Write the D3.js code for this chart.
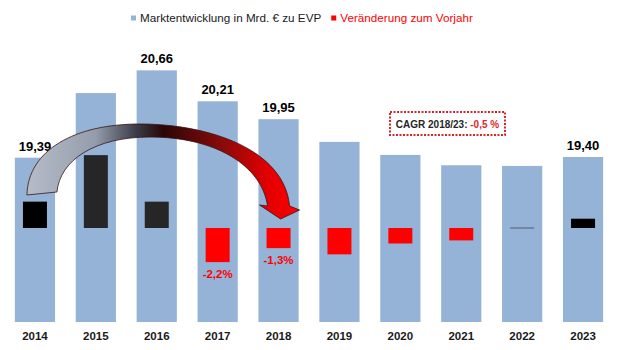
<!DOCTYPE html>
<html>
<head>
<meta charset="utf-8">
<script src="https://cdn.jsdelivr.net/npm/d3@7"></script>
<style>
  body { margin: 0; background: #fff; }
  text { font-family: "Liberation Sans", Arial, sans-serif; }
</style>
</head>
<body>
<div id="chart"></div>
<script>
const width = 620, height = 350;

// data
const years = ["2014", "2015", "2016", "2017", "2018", "2019", "2020", "2021", "2022", "2023"];
const market = [19.39, 20.33, 20.66, 20.21, 19.95, 19.62, 19.43, 19.28, 19.27, 19.40];
const change = [1.7, 4.7, 1.7, -2.2, -1.3, -1.7, -1.0, -0.8, 0.0, 0.6];
const valueLabels = ["19,39", "", "20,66", "20,21", "19,95", "", "", "", "", "19,40"];
const changeLabels = ["", "", "", "-2,2%", "-1,3%", "", "", "", "", ""];
const changeColors = ["#000000", "#262626", "#262626", "#ff0000", "#ff0000", "#ff0000", "#ff0000", "#ff0000", "#595959", "#000000"];
const legendLabels = ["Marktentwicklung in Mrd. € zu EVP", "Veränderung zum Vorjahr"];
const cagrLabel = "CAGR 2018/23: ", cagrValue = "-0,5 %";

const svg = d3.select("#chart").append("svg")
  .attr("width", width).attr("height", height);

const x = d3.scaleBand().domain(years).range([4.5, 613.5])
  .paddingInner(0.34).paddingOuter(0.17);
const y = d3.scaleLinear().domain([17, 21]).range([322, 47]);
const c = d3.scaleLinear().domain([0, 1]).range([228, 212.5]);

// market bars
svg.selectAll(".bar").data(years).enter().append("rect")
  .attr("x", d => x(d))
  .attr("width", x.bandwidth())
  .attr("y", (d, i) => y(market[i]))
  .attr("height", (d, i) => y(17) - y(market[i]))
  .attr("fill", "#95b3d7");

// value labels
svg.selectAll(".vlabel").data(years).enter().append("text")
  .attr("x", d => x(d) + x.bandwidth() / 2)
  .attr("y", (d, i) => y(market[i]) - 7)
  .attr("text-anchor", "middle")
  .style("font-size", "13px").style("font-weight", "bold").attr("fill", "#000")
  .text((d, i) => valueLabels[i]);

// change bars
const cw = 24;
years.forEach((yr, i) => {
  const cx = x(yr) + x.bandwidth() / 2;
  if (change[i] === 0) {
    svg.append("line")
      .attr("x1", cx - cw / 2).attr("x2", cx + cw / 2)
      .attr("y1", c(0)).attr("y2", c(0))
      .attr("stroke", "#4d5a70").attr("stroke-width", 1);
  } else {
    svg.append("rect")
      .attr("x", cx - cw / 2).attr("width", cw)
      .attr("y", Math.min(c(0), c(change[i])))
      .attr("height", Math.abs(c(change[i]) - c(0)))
      .attr("fill", changeColors[i]);
  }
  if (changeLabels[i]) {
    svg.append("text")
      .attr("x", cx).attr("y", c(change[i]) + 16)
      .attr("text-anchor", "middle")
      .style("font-size", "11.5px").style("font-weight", "bold")
      .attr("fill", "#ff0000")
      .text(changeLabels[i]);
  }
});

// year labels
svg.selectAll(".year").data(years).enter().append("text")
  .attr("x", d => x(d) + x.bandwidth() / 2)
  .attr("y", 340)
  .attr("text-anchor", "middle")
  .style("font-size", "11.5px").style("font-weight", "bold").attr("fill", "#1a1a1a")
  .text(d => d);

// curved arrow 2014 -> 2018
const defs = svg.append("defs");
const a0 = x("2014") + x.bandwidth() / 2, a1 = x("2018") + x.bandwidth() / 2, z = c(0);
const grad = defs.append("linearGradient").attr("id", "arrowGrad")
  .attr("gradientUnits", "userSpaceOnUse")
  .attr("x1", a0 - 8).attr("x2", a1 + 21).attr("y1", 0).attr("y2", 0);
[[0, "#b6bcc8"], [0.25, "#959dac"], [0.4, "#3a3c48"], [0.5, "#2a0606"], [0.72, "#8c0a0a"], [0.88, "#e00000"], [1, "#ff0000"]]
  .forEach(s => grad.append("stop").attr("offset", s[0]).attr("stop-color", s[1]));

const p = d3.path();
p.moveTo(a0 - 8, z - 33);
p.bezierCurveTo(a0 - 7, z - 78, a0 + 40, z - 104, a0 + 105, z - 104);
p.bezierCurveTo(a0 + 175, z - 104, a1 + 6, z - 78, a1 + 11, z - 22);
p.lineTo(a1 + 21, z - 18);
p.lineTo(a1 + 2, z - 9);
p.lineTo(a1 - 19, z - 23);
p.lineTo(a1 - 11, z - 22);
p.bezierCurveTo(a1 - 17, z - 63, a0 + 180, z - 91, a0 + 115, z - 91);
p.bezierCurveTo(a0 + 60, z - 91, a0 + 25, z - 68, a0 + 22, z - 36);
p.closePath();
svg.append("path").attr("d", p.toString())
  .attr("fill", "url(#arrowGrad)")
  .attr("stroke", "#3a1414").attr("stroke-width", 0.8);

// CAGR box
const box = svg.append("g").attr("transform", "translate(390,112)");
box.append("rect").attr("width", 115).attr("height", 23)
  .attr("fill", "#fff").attr("stroke", "#d9262b").attr("stroke-width", 2)
  .attr("stroke-dasharray", "2,1.5");
const ct = box.append("text").attr("x", 57.5).attr("y", 16).attr("text-anchor", "middle")
  .style("font-size", "10px").style("font-weight", "bold");
ct.append("tspan").attr("fill", "#262626").text(cagrLabel);
ct.append("tspan").attr("fill", "#e0262b").text(cagrValue);

// legend
const legendColors = ["#95b3d7", "#ff0000"];
const legendText = ["#1a1a1a", "#ff0000"];
const lg = svg.append("g").attr("transform", "translate(131,0)");
let lx = 0;
legendLabels.forEach((lab, i) => {
  lg.append("rect").attr("x", lx).attr("y", 15.5).attr("width", 5).attr("height", 5)
    .attr("fill", legendColors[i]);
  const t = lg.append("text").attr("x", lx + 9).attr("y", 22)
    .style("font-size", "11.7px").attr("fill", legendText[i]).text(lab);
  lx += 9 + t.node().getComputedTextLength() + 10;
});
</script>
</body>
</html>
